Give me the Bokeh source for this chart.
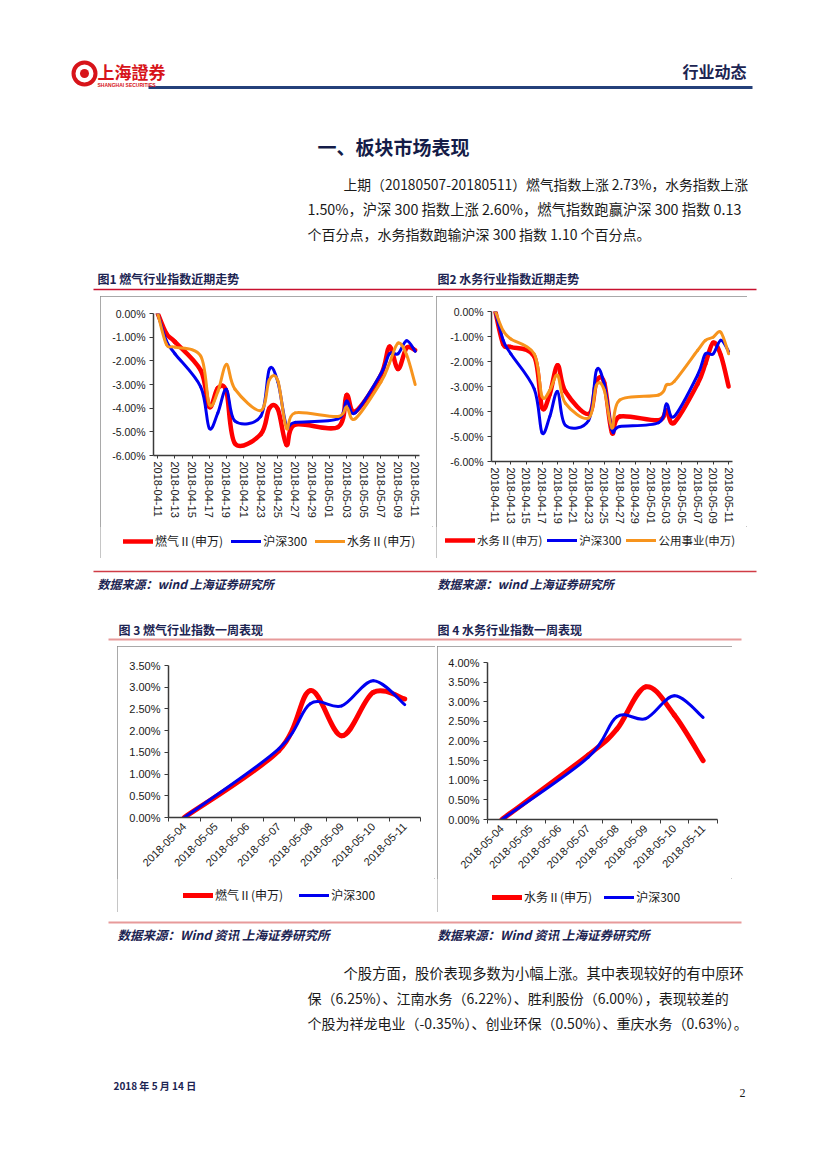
import math
import pandas as pd
from bokeh.plotting import figure
from bokeh.models import (Range1d, Label, FixedTicker, PrintfTickFormatter, Legend,
                          LegendItem, Spacer, ColumnDataSource)
from bokeh.layouts import column, row
from bokeh.embed import file_html
from bokeh.resources import INLINE

# ---------------- data ----------------
trade_dates = ["2018-04-11", "2018-04-12", "2018-04-13", "2018-04-16", "2018-04-17",
               "2018-04-18", "2018-04-19", "2018-04-20", "2018-04-23", "2018-04-24",
               "2018-04-25", "2018-04-26", "2018-04-27", "2018-05-02", "2018-05-03",
               "2018-05-04", "2018-05-07", "2018-05-08", "2018-05-09", "2018-05-10",
               "2018-05-11"]
gas_sw = [0, -0.85, -1.2, -2.4, -3.95, -3.15, -3.3, -5.5, -5.1, -4.0, -4.05, -5.55,
          -4.7, -4.8, -3.45, -4.15, -2.6, -1.4, -2.35, -1.45, -1.55]
hs300 = [0, -1.15, -1.7, -3.1, -4.85, -4.2, -3.2, -4.55, -4.35, -2.35, -2.9, -4.75,
         -4.6, -4.45, -3.7, -4.2, -2.55, -1.7, -1.7, -1.15, -1.6]
water_sw = [0, -1.3, -1.42, -1.8, -3.85, -3.3, -2.15, -3.2, -4.1, -2.8, -2.85, -4.85,
            -4.2, -4.35, -3.95, -4.45, -2.9, -2.1, -1.25, -1.75, -3.0]
utility_sw = [0, -0.77, -1.1, -1.7, -3.4, -3.15, -2.55, -3.67, -4.26, -2.94, -3.14,
              -4.66, -3.54, -3.34, -2.94, -2.8, -1.56, -1.16, -1.03, -0.83, -1.69]
month_tick_labels = ["2018-04-11", "2018-04-13", "2018-04-15", "2018-04-17", "2018-04-19",
                     "2018-04-21", "2018-04-23", "2018-04-25", "2018-04-27", "2018-04-29",
                     "2018-05-01", "2018-05-03", "2018-05-05", "2018-05-07", "2018-05-09",
                     "2018-05-11"]
month_y_ticks = [0, -1, -2, -3, -4, -5, -6]

week_dates = ["2018-05-04", "2018-05-07", "2018-05-08", "2018-05-09", "2018-05-10", "2018-05-11"]
gas_week = [0, 1.54, 2.92, 1.88, 2.88, 2.73]
hs300_week = [0, 1.58, 2.62, 2.57, 3.15, 2.60]
water_week = [0, 1.64, 2.30, 3.38, 2.66, 1.50]
week_tick_labels = ["2018-05-04", "2018-05-05", "2018-05-06", "2018-05-07", "2018-05-08",
                    "2018-05-09", "2018-05-10", "2018-05-11"]
week_y_ticks_gas = [0, 0.5, 1.0, 1.5, 2.0, 2.5, 3.0, 3.5]
week_y_ticks_water = [0, 0.5, 1.0, 1.5, 2.0, 2.5, 3.0, 3.5, 4.0]

RED, BLUE, ORANGE = "#ff0000", "#0000f0", "#f7941d"
NAVY = "#1c2452"
CJK = "Noto Sans CJK SC"
PAGE_W = 819


def offsets(dates, base):
    b = pd.Timestamp(base)
    return [int((pd.Timestamp(d) - b).days) for d in dates]


def bezier_source(xs, ys):
    n = len(xs)
    d = dict(x0=[], y0=[], x1=[], y1=[], cx0=[], cy0=[], cx1=[], cy1=[])
    for i in range(n - 1):
        xa, ya = (xs[i - 1], ys[i - 1]) if i > 0 else (xs[i], ys[i])
        xb, yb = (xs[i + 2], ys[i + 2]) if i + 2 < n else (xs[i + 1], ys[i + 1])
        d["x0"].append(xs[i]); d["y0"].append(ys[i])
        d["x1"].append(xs[i + 1]); d["y1"].append(ys[i + 1])
        d["cx0"].append(xs[i] + (xs[i + 1] - xa) / 6.0)
        d["cy0"].append(ys[i] + (ys[i + 1] - ya) / 6.0)
        d["cx1"].append(xs[i + 1] - (xb - xs[i]) / 6.0)
        d["cy1"].append(ys[i + 1] - (yb - ys[i]) / 6.0)
    return ColumnDataSource(d)


BEZ = dict(x0="x0", y0="y0", x1="x1", y1="y1", cx0="cx0", cy0="cy0", cx1="cx1", cy1="cy1")


def chart(w, h, leg_h, borders, xr, yr, yticks, xticks, xlabels, xminor, orient, series,
          ylab_size, xlab_size, tick_out_x, legend_loc, leg_spacing, leg_font):
    left, right, top, bottom = borders
    p = figure(width=w, height=h - leg_h, x_range=Range1d(*xr), y_range=Range1d(*yr),
               output_backend="svg", toolbar_location=None,
               min_border_left=left, min_border_right=right,
               min_border_top=top, min_border_bottom=bottom)
    p.outline_line_color = None
    p.grid.visible = False
    ya = p.yaxis[0]
    ya.ticker = FixedTicker(ticks=yticks)
    ya.formatter = PrintfTickFormatter(format="%.2f%%")
    ya.major_tick_out = 4
    ya.major_tick_in = 0
    ya.minor_tick_out = 0
    ya.minor_tick_in = 0
    ya.axis_line_color = "#3a3a3a"
    ya.axis_line_width = 1.5
    ya.major_tick_line_color = "#3a3a3a"
    ya.major_label_text_font = "Liberation Sans"
    ya.major_label_text_font_size = ylab_size
    ya.major_label_text_color = "#1a1a1a"
    ya.major_label_standoff = 4
    xa = p.xaxis[0]
    xa.ticker = FixedTicker(ticks=xticks, minor_ticks=xminor)
    xa.major_label_overrides = {t: lab for t, lab in zip(xticks, xlabels)}
    xa.major_label_orientation = orient
    xa.major_tick_out = tick_out_x
    xa.major_tick_in = 0
    xa.minor_tick_out = 4 if xminor else 0
    xa.minor_tick_in = 0
    xa.axis_line_color = "#3a3a3a"
    xa.axis_line_width = 1.5
    xa.major_tick_line_color = "#3a3a3a"
    xa.minor_tick_line_color = "#3a3a3a"
    xa.major_label_text_font = "Liberation Sans"
    xa.major_label_text_font_size = xlab_size
    xa.major_label_text_color = "#1a1a1a"
    xa.major_label_standoff = 3

    # legend strip under the chart (same series, same library glyphs)
    lf = figure(width=w, height=leg_h, x_range=p.x_range, y_range=Range1d(1000, 1001),
                output_backend="svg", toolbar_location=None,
                x_axis_type=None, y_axis_type=None, min_border=0)
    lf.min_border_left = lf.min_border_right = lf.min_border_top = lf.min_border_bottom = 0
    lf.outline_line_color = None
    lf.grid.visible = False
    items = []
    for label, xs, ys, color, lw in series:
        src = bezier_source(xs, ys)
        p.bezier(source=src, line_color=color, line_width=lw, line_cap="round", **BEZ)
        r2 = lf.bezier(source=src, line_color=color, line_width=lw, line_cap="round", **BEZ)
        items.append(LegendItem(label=label, renderers=[r2]))
    lg = Legend(items=items, orientation="horizontal", location=legend_loc,
                glyph_width=30, glyph_height=16, label_height=16, label_text_font=CJK,
                label_text_font_size=leg_font, label_text_color="#1a1a1a",
                label_standoff=2, spacing=leg_spacing, padding=0, margin=0,
                border_line_color=None, background_fill_alpha=0)
    lf.add_layout(lg)
    col = column(p, row(lf))
    col.styles = {"outline": "1px solid #8c8c8c", "outline-offset": "-1px"}
    return col


def text_fig(y_top, y_bottom):
    p = figure(width=PAGE_W, height=y_bottom - y_top, x_range=Range1d(0, PAGE_W),
               y_range=Range1d(y_bottom, y_top),
               output_backend="svg", toolbar_location=None, x_axis_type=None, y_axis_type=None,
               min_border=0)
    p.min_border_left = p.min_border_right = p.min_border_top = p.min_border_bottom = 0
    p.outline_line_color = None
    p.grid.visible = False
    return p


def label(p, x, y, text, size, font=CJK, style="normal", color="#1a1a1a", align="left"):
    p.add_layout(Label(x=x, y=y, text=text, text_font=font, text_font_size=size,
                       text_font_style=style, text_color=color, text_align=align,
                       text_baseline="middle"))


# ---------------- page: top ----------------
top = text_fig(0, 296)
top.scatter(x=[84], y=[73], size=22, marker="circle", fill_color="white",
            line_color="#d7141a", line_width=4)
top.scatter(x=[84], y=[73], size=9, marker="circle", fill_color="#d7141a", line_color=None)
label(top, 97, 71, "上海證券", "17px", style="bold", color="#d7141a")
label(top, 97, 84, "SHANGHAI SECURITIES", "5px", font="Liberation Sans", style="bold", color="#d7141a")
label(top, 746, 70, "行业动态", "16px", style="bold", color=NAVY, align="right")
top.segment(x0=[148], y0=[87], x1=[752], y1=[87], line_color="#24407a", line_width=3)
label(top, 393, 146, "一、板块市场表现", "19px", style="bold", color="#141c48", align="center")
label(top, 343, 183, "上期（20180507-20180511）燃气指数上涨 2.73%，水务指数上涨", "13.8px")
label(top, 307, 208, "1.50%，沪深 300 指数上涨 2.60%，燃气指数跑赢沪深 300 指数 0.13", "14.3px")
label(top, 307, 233, "个百分点，水务指数跑输沪深 300 指数 1.10 个百分点。", "14px")
label(top, 97, 278, "图1 燃气行业指数近期走势", "12px", style="bold", color=NAVY)
label(top, 437, 278, "图2 水务行业指数近期走势", "12px", style="bold", color=NAVY)
top.segment(x0=[93], y0=[289], x1=[756], y1=[289], line_color="#c8102e", line_width=1.3)

# ---------------- charts 1 & 2 ----------------
mx = offsets(trade_dates, "2018-04-11")
mticks = offsets(month_tick_labels, "2018-04-11")
c1 = chart(333, 262, 32, (53, 14, 17, 71), (-0.5, 30.5), (-6, 0), month_y_ticks, mticks,
           month_tick_labels, [], "vertical",
           [("燃气Ⅱ(申万)", mx, gas_sw, RED, 4.5),
            ("沪深300", mx, hs300, BLUE, 3),
            ("水务Ⅱ(申万)", mx, water_sw, ORANGE, 3)],
           "10.5px", "11px", 3, (23, 9), 8, "12px")
c2 = chart(311, 262, 32, (55, 15, 15, 64), (-0.5, 30.5), (-6, 0), month_y_ticks, mticks,
           month_tick_labels, [], "vertical",
           [("水务Ⅱ(申万)", mx, water_sw, RED, 4.5),
            ("沪深300", mx, hs300, BLUE, 3),
            ("公用事业(申万)", mx, utility_sw, ORANGE, 3)],
           "10.5px", "11px", 3, (9, 10), 5, "11.5px")
row2 = row(Spacer(width=100, height=262), c1, Spacer(width=3, height=262), c2,
           Spacer(width=72, height=262))

# ---------------- page: middle ----------------
mid = text_fig(558, 646)
mid.segment(x0=[93], y0=[571], x1=[756], y1=[571], line_color="#d03c46", line_width=1.5)
label(mid, 97, 583, "数据来源：wind 上海证券研究所", "12px", style="bold italic", color=NAVY)
label(mid, 437, 583, "数据来源：wind 上海证券研究所", "12px", style="bold italic", color=NAVY)
label(mid, 118, 629, "图 3  燃气行业指数一周表现", "12px", style="bold", color=NAVY)
label(mid, 437, 629, "图 4  水务行业指数一周表现", "12px", style="bold", color=NAVY)
mid.segment(x0=[108], y0=[639], x1=[741], y1=[639], line_color="#e79a9a", line_width=2)

# ---------------- charts 3 & 4 ----------------
wx = offsets(week_dates, "2018-05-04")
wticks = offsets(week_tick_labels, "2018-05-04")
wminor = [t - 0.5 for t in wticks] + [wticks[-1] + 0.5]
c3 = chart(318, 266, 34, (51, 15, 19, 61), (-0.5, 7.5), (0, 3.5), week_y_ticks_gas, wticks,
           week_tick_labels, wminor, math.pi / 4,
           [("燃气Ⅱ(申万)", wx, gas_week, RED, 5),
            ("沪深300", wx, hs300_week, BLUE, 3)],
           "11px", "11px", 0, (66, 9), 16, "12px")
c4 = chart(295, 266, 34, (50, 15, 16, 59), (-0.5, 7.5), (0, 4.0), week_y_ticks_water, wticks,
           week_tick_labels, wminor, math.pi / 4,
           [("水务Ⅱ(申万)", wx, water_week, RED, 5),
            ("沪深300", wx, hs300_week, BLUE, 3)],
           "11px", "11px", 0, (55, 7), 12, "12px")
row4 = row(Spacer(width=117, height=266), c3, Spacer(width=2, height=266), c4,
           Spacer(width=87, height=266))

# ---------------- page: bottom ----------------
bot = text_fig(912, 1161)
bot.segment(x0=[108], y0=[922], x1=[741], y1=[922], line_color="#e79a9a", line_width=2)
label(bot, 117, 934, "数据来源：Wind 资讯 上海证券研究所", "12.5px", style="bold italic", color=NAVY)
label(bot, 437, 934, "数据来源：Wind 资讯 上海证券研究所", "12.5px", style="bold italic", color=NAVY)
label(bot, 343, 972, "个股方面，股价表现多数为小幅上涨。其中表现较好的有中原环", "14.3px")
label(bot, 307, 997, "保（6.25%）、江南水务（6.22%）、胜利股份（6.00%），表现较差的", "14px")
label(bot, 307, 1022, "个股为祥龙电业（-0.35%）、创业环保（0.50%）、重庆水务（0.63%）。", "14px")
label(bot, 113, 1085, "2018 年 5 月 14 日", "10px", style="bold", color=NAVY)
label(bot, 745, 1092, "2", "12px", font="Liberation Serif", color="#1a1a1a", align="right")

page = column(top, row2, mid, row4, bot)
open("out.html", "w").write(file_html(page, INLINE, "行业动态"))
